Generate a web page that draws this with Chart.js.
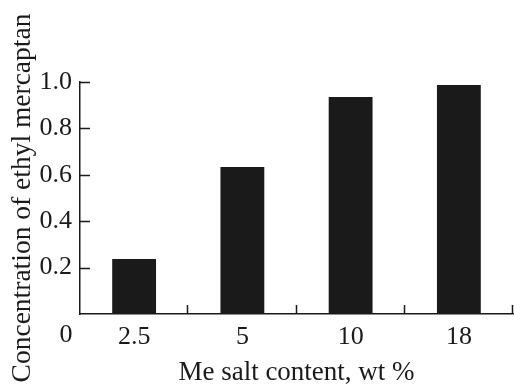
<!DOCTYPE html>
<html>
<head>
<meta charset="utf-8">
<script src="https://cdn.jsdelivr.net/npm/chart.js@4/dist/chart.umd.min.js"></script>
<style>
  html, body { margin: 0; padding: 0; background: #fff; }
  #wrap { width: 514px; height: 384px; }
</style>
</head>
<body>
<div id="wrap"><canvas id="chart" width="514" height="384"></canvas></div>
<script>
const categories = ['2.5', '5', '10', '18'];
const concentration = [0.237, 0.634, 0.935, 0.987];
const yTicks = [0, 0.2, 0.4, 0.6, 0.8, 1.0];

const ink = '#1a1a1a';
const serif = '"Liberation Serif", "Times New Roman", serif';

// ticks in this figure point inward, so draw them by hand from the scales
const innerTicks = {
  id: 'innerTicks',
  afterDatasetsDraw(chart) {
    const { ctx, scales: { x, y } } = chart;
    ctx.save();
    ctx.strokeStyle = ink;
    ctx.lineWidth = 1.5;
    ctx.beginPath();
    yTicks.forEach(v => {
      if (v === 0) return;
      const py = Math.round(y.getPixelForValue(v)) + 0.5;
      ctx.moveTo(x.left, py);
      ctx.lineTo(x.left + 10, py);
    });
    for (let i = 0; i < categories.length; i++) {
      const px = Math.round(x.getPixelForValue(i + 0.5)) - 0.5;
      ctx.moveTo(px, y.bottom);
      ctx.lineTo(px, y.bottom - 9);
    }
    ctx.stroke();
    // origin label sits under the axis, level with the category labels
    ctx.fillStyle = ink;
    ctx.font = '26px ' + serif;
    ctx.textAlign = 'center';
    ctx.textBaseline = 'top';
    ctx.fillText('0', x.left - 14, x.top + 8);
    ctx.restore();
  }
};

new Chart(document.getElementById('chart'), {
  type: 'bar',
  data: {
    labels: categories,
    datasets: [{
      data: concentration,
      backgroundColor: ink,
      borderWidth: 0,
      categoryPercentage: 1,
      barPercentage: 0.405
    }]
  },
  options: {
    responsive: false,
    animation: false,
    layout: { padding: { top: 82, right: 1, left: 0, bottom: 0 } },
    plugins: { legend: { display: false }, tooltip: { enabled: false } },
    scales: {
      x: {
        afterFit(scale) { scale.height = 70; },
        grid: { display: false, drawTicks: false },
        border: { display: true, color: ink, width: 1.5 },
        ticks: { color: ink, font: { family: serif, size: 26 }, padding: 8, maxRotation: 0 },
        title: {
          display: true,
          text: 'Me salt content, wt %',
          color: ink,
          font: { family: serif, size: 27, lineHeight: 1 },
          padding: { top: 0, bottom: -2 }
        }
      },
      y: {
        min: 0,
        max: 1.0,
        afterFit(scale) { scale.width = 80; },
        afterBuildTicks(scale) { scale.ticks = yTicks.map(v => ({ value: v })); },
        grid: { display: false, drawTicks: false },
        border: { display: true, color: ink, width: 1.5 },
        ticks: {
          color: ink,
          font: { family: serif, size: 26 },
          padding: 8,
          callback: v => v === 0 ? '' : v.toFixed(1)
        },
        title: {
          display: true,
          text: 'Concentration of ethyl mercaptan',
          color: ink,
          font: { family: serif, size: 27.5, lineHeight: 1.2 },
          padding: { top: 6, bottom: 0 }
        }
      }
    }
  },
  plugins: [innerTicks]
});
</script>
</body>
</html>
